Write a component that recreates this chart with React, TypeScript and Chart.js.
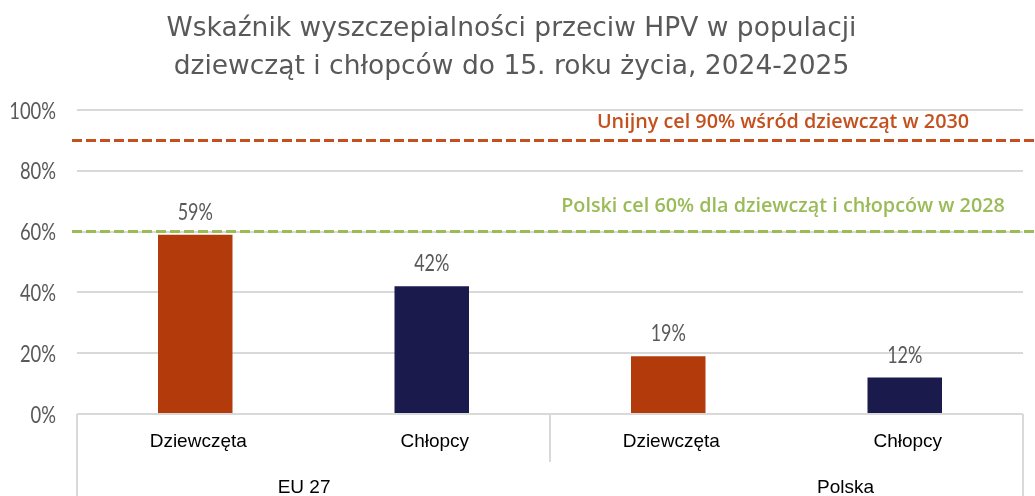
import React, { useEffect, useRef } from "react";
import { Chart, registerables } from "chart.js";

Chart.register(...registerables);

const titleLines = [
  "Wskaźnik wyszczepialności przeciw HPV w populacji",
  "dziewcząt i chłopców do 15. roku życia, 2024-2025",
];
const categories = ["Dziewczęta", "Chłopcy", "Dziewczęta", "Chłopcy"];
const groups = ["EU 27", "Polska"];
const groupSizes = [2, 2];
const values = [59, 42, 19, 12];
const barColors = ["#B33A0A", "#1B1A4D", "#B33A0A", "#1B1A4D"];
const yTicks = [0, 20, 40, 60, 80, 100];
const targetValues = [90, 60];
const targetLabels = [
  "Unijny cel 90% wśród dziewcząt w 2030",
  "Polski cel 60% dla dziewcząt i chłopców w 2028",
];
const targetColors = ["#C4501E", "#9BBB59"];

const LABEL_FONT = '"Liberation Sans", Arial, sans-serif';
const NUM_FONT = '23px Lato, "Open Sans", sans-serif';

function drawScaled(ctx: CanvasRenderingContext2D, text: string, x: number, y: number, sx: number, align: CanvasTextAlign) {
  ctx.save();
  ctx.translate(x, y);
  ctx.scale(sx, 1);
  ctx.textAlign = align;
  ctx.textBaseline = "alphabetic";
  ctx.fillText(text, 0, 0);
  ctx.restore();
}

export default function App() {
  const ref = useRef<HTMLCanvasElement>(null);

  useEffect(() => {
    if (!ref.current) return;

    const overlay = {
      id: "overlay",
      afterDatasetsDraw(chart: any) {
        const { ctx, chartArea, scales } = chart;
        const x = scales.x;
        const y = scales.y;
        ctx.save();
        // y tick labels
        ctx.fillStyle = "#595959";
        ctx.font = NUM_FONT;
        yTicks.forEach((v) => {
          drawScaled(ctx, v + "%", chartArea.left - 21, y.getPixelForValue(v) + 8.5, 0.8, "right");
        });
        // target lines
        const labelGaps = [12, 20];
        targetValues.forEach((v, i) => {
          const py = y.getPixelForValue(v);
          ctx.strokeStyle = targetColors[i];
          ctx.lineWidth = 3;
          ctx.setLineDash([10, 4]);
          ctx.beginPath();
          ctx.moveTo(chartArea.left - 5, py);
          ctx.lineTo(chart.width, py);
          ctx.stroke();
          ctx.setLineDash([]);
          ctx.fillStyle = targetColors[i];
          ctx.font = '600 19.8px "Open Sans", Lato, sans-serif';
          ctx.textAlign = "center";
          ctx.textBaseline = "alphabetic";
          ctx.fillText(targetLabels[i], 783, py - labelGaps[i]);
        });
        // value labels
        const meta = chart.getDatasetMeta(0);
        ctx.fillStyle = "#595959";
        ctx.font = NUM_FONT;
        meta.data.forEach((bar: any, i: number) => {
          drawScaled(ctx, values[i] + "%", bar.x, bar.y - 15, 0.78, "center");
        });
        // x axis frame
        const bottom = chartArea.bottom;
        ctx.strokeStyle = "#D9D9D9";
        ctx.lineWidth = 2;
        const half = (x.getPixelForValue(1) - x.getPixelForValue(0)) / 2;
        let idx = 0;
        const boundaries: number[] = [x.getPixelForValue(0) - half];
        groupSizes.forEach((s) => {
          idx += s;
          boundaries.push(x.getPixelForValue(idx - 1) + half);
        });
        ctx.beginPath();
        ctx.moveTo(boundaries[0], bottom);
        ctx.lineTo(boundaries[boundaries.length - 1], bottom);
        ctx.stroke();
        boundaries.forEach((bx, i) => {
          const outer = i === 0 || i === boundaries.length - 1;
          ctx.beginPath();
          ctx.moveTo(bx, bottom);
          ctx.lineTo(bx, outer ? chart.height : bottom + 48);
          ctx.stroke();
        });
        // category labels
        ctx.fillStyle = "#000000";
        ctx.font = "19px " + LABEL_FONT;
        ctx.textAlign = "center";
        ctx.textBaseline = "alphabetic";
        categories.forEach((c, i) => {
          ctx.fillText(c, x.getPixelForValue(i) + 3, bottom + 33);
        });
        // group labels (anchored as in the source layout)
        const groupAnchors = [0.48, 0.625];
        groups.forEach((g, i) => {
          const gx = boundaries[i] + (boundaries[i + 1] - boundaries[i]) * groupAnchors[i];
          ctx.fillText(g, gx, bottom + 79);
        });
        ctx.restore();
      },
    };

    const chart = new Chart(ref.current, {
      type: "bar",
      data: {
        labels: categories,
        datasets: [
          {
            data: values,
            backgroundColor: barColors,
            barPercentage: 0.315,
            categoryPercentage: 1,
          },
        ],
      },
      options: {
        animation: false,
        responsive: true,
        maintainAspectRatio: false,
        layout: { padding: { left: 0, right: 12, top: 0, bottom: 0 } },
        plugins: {
          legend: { display: false },
          tooltip: { enabled: false },
          title: {
            display: true,
            text: titleLines,
            color: "#595959",
            font: { family: '"DejaVu Sans", sans-serif', size: 26.5, weight: "normal", lineHeight: 1.434 },
            padding: { top: 10, bottom: 24 },
          },
        },
        scales: {
          x: {
            grid: { display: false },
            border: { display: false },
            ticks: { display: false },
            afterFit: (axis: any) => {
              axis.height = 82;
            },
          },
          y: {
            min: 0,
            max: 100,
            afterBuildTicks: (axis: any) => {
              axis.ticks = yTicks.map((v) => ({ value: v }));
            },
            grid: { color: "#D9D9D9", lineWidth: 2, drawTicks: false },
            border: { display: false },
            ticks: { display: false },
            afterFit: (axis: any) => {
              axis.width = 77;
            },
          },
        },
      },
      plugins: [overlay],
    });
    return () => chart.destroy();
  }, []);

  return (
    <div style={{ position: "fixed", left: 0, top: 0, width: 1035, height: 496, background: "#fff" }}>
      <canvas ref={ref} />
    </div>
  );
}
